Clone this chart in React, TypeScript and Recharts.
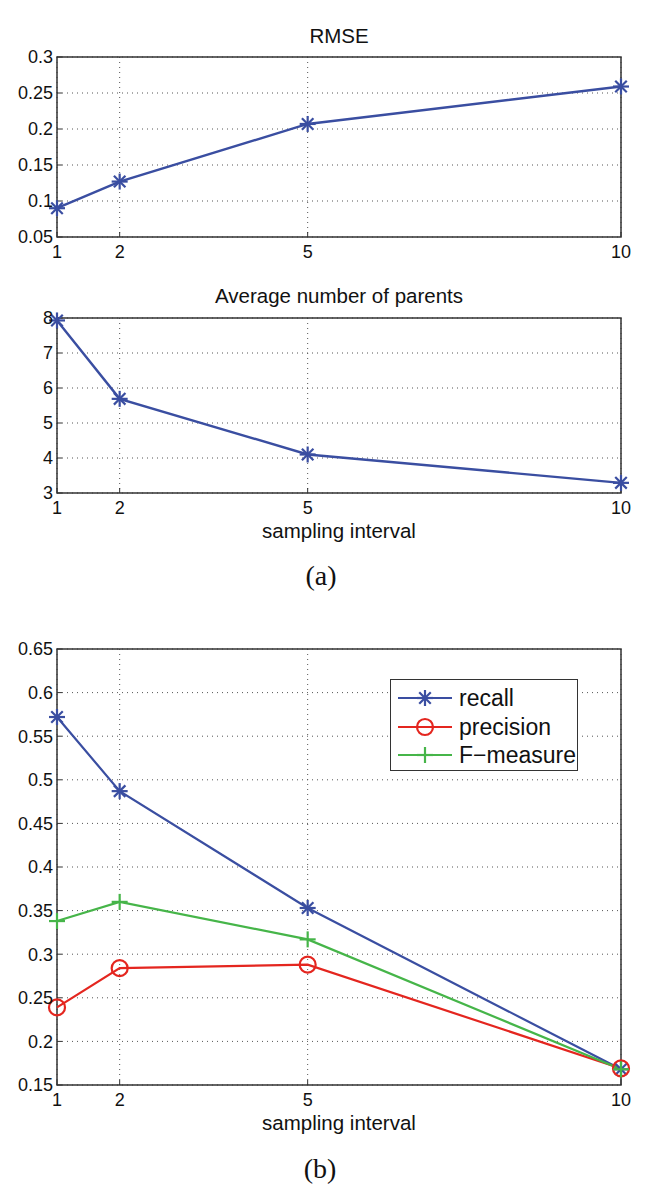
import React from 'react'
import { LineChart, Line, XAxis, YAxis, CartesianGrid, ReferenceArea, Legend } from 'recharts'

// sampling intervals shared by all three panels
const intervals = [1, 2, 5, 10]

// panel (a), top: RMSE
const rmse = [0.09, 0.127, 0.207, 0.259]
const rmseTicks = [0.05, 0.1, 0.15, 0.2, 0.25, 0.3]

// panel (a), bottom: average number of parents
const avgParents = [7.93, 5.69, 4.1, 3.29]
const parentsTicks = [3, 4, 5, 6, 7, 8]

// panel (b)
const recall = [0.572, 0.487, 0.353, 0.168]
const precision = [0.239, 0.284, 0.288, 0.169]
const fMeasure = [0.338, 0.36, 0.317, 0.168]
const prfTicks = [0.15, 0.2, 0.25, 0.3, 0.35, 0.4, 0.45, 0.5, 0.55, 0.6, 0.65]
const legendOrder = ['recall', 'precision', 'fmeasure']

const BLUE = '#3a4ea1'
const RED = '#e4261f'
const GREEN = '#46b549'
const AXIS = '#333'
const FONT = '"Liberation Sans", Arial, sans-serif'

const rmseData = intervals.map((x, i) => ({ interval: x, rmse: rmse[i] }))
const parentsData = intervals.map((x, i) => ({ interval: x, parents: avgParents[i] }))
const prfData = intervals.map((x, i) => ({
  interval: x,
  recall: recall[i],
  precision: precision[i],
  fmeasure: fMeasure[i],
}))

const tickStyle = { fontSize: 18, fill: '#111', fontFamily: FONT }

// MATLAB-like markers
function AsteriskMark({ cx, cy, color, r = 8 }: any) {
  if (cx == null || cy == null) return null
  const d = r * 0.72
  return (
    <g stroke={color} strokeWidth={2.2} fill="none">
      <line x1={cx - r} y1={cy} x2={cx + r} y2={cy} />
      <line x1={cx} y1={cy - r} x2={cx} y2={cy + r} />
      <line x1={cx - d} y1={cy - d} x2={cx + d} y2={cy + d} />
      <line x1={cx - d} y1={cy + d} x2={cx + d} y2={cy - d} />
    </g>
  )
}

function CircleMark({ cx, cy, color, r = 8 }: any) {
  if (cx == null || cy == null) return null
  return <circle cx={cx} cy={cy} r={r} stroke={color} strokeWidth={2.2} fill="none" />
}

function PlusMark({ cx, cy, color, r = 8 }: any) {
  if (cx == null || cy == null) return null
  return (
    <g stroke={color} strokeWidth={2.2} fill="none">
      <line x1={cx - r} y1={cy} x2={cx + r} y2={cy} />
      <line x1={cx} y1={cy - r} x2={cx} y2={cy + r} />
    </g>
  )
}

const markers: Record<string, any> = {
  recall: AsteriskMark,
  precision: CircleMark,
  fmeasure: PlusMark,
}

function dotOf(Mark: any, color: string) {
  return (p: any) => <Mark key={`${p.dataKey}-${p.index}`} cx={p.cx} cy={p.cy} color={color} />
}

// axes, grid and box, shared by every panel
function frame(domain: number[], ticks: number[]) {
  return [
    <CartesianGrid key="grid" stroke="#555" strokeDasharray="1 4" strokeWidth={1} />,
    <XAxis
      key="x"
      dataKey="interval"
      type="number"
      domain={[1, 10]}
      ticks={intervals}
      interval={0}
      height={30}
      tickSize={-5}
      tickMargin={13}
      axisLine={false}
      stroke={AXIS}
      tick={tickStyle}
    />,
    <XAxis
      key="xt"
      xAxisId="top"
      orientation="top"
      dataKey="interval"
      type="number"
      domain={[1, 10]}
      ticks={intervals}
      interval={0}
      height={1}
      tickSize={-5}
      axisLine={false}
      stroke={AXIS}
      tick={false}
    />,
    <YAxis
      key="y"
      type="number"
      domain={domain}
      ticks={ticks}
      interval={0}
      width={57}
      tickSize={-5}
      tickMargin={9}
      axisLine={false}
      stroke={AXIS}
      tick={tickStyle}
    />,
    <YAxis
      key="yr"
      yAxisId="right"
      orientation="right"
      type="number"
      domain={domain}
      ticks={ticks}
      interval={0}
      width={1}
      tickSize={-5}
      axisLine={false}
      stroke={AXIS}
      tick={false}
    />,
    <ReferenceArea
      key="box"
      x1={1}
      x2={10}
      y1={domain[0]}
      y2={domain[1]}
      fill="none"
      fillOpacity={0}
      stroke={AXIS}
      strokeWidth={1.5}
    />,
  ]
}

function PrfLegend({ payload }: any) {
  const items = [...(payload || [])].sort(
    (a: any, b: any) => legendOrder.indexOf(a.dataKey) - legendOrder.indexOf(b.dataKey)
  )
  return (
    <div
      style={{
        width: 188,
        height: 92,
        boxSizing: 'border-box',
        border: `1.5px solid ${AXIS}`,
        background: '#fff',
        paddingTop: 4,
        fontFamily: FONT,
        fontSize: 23,
        color: '#111',
      }}
    >
      {items.map((entry: any) => {
        const Mark = markers[entry.dataKey]
        return (
          <div key={entry.dataKey} style={{ height: 28.5, display: 'flex', alignItems: 'center' }}>
            <svg width={68} height={28} style={{ flex: 'none' }}>
              <line x1={7} y1={14} x2={61} y2={14} stroke={entry.color} strokeWidth={2.2} />
              <Mark cx={34} cy={14} color={entry.color} />
            </svg>
            <span style={{ lineHeight: '28px' }}>{entry.value}</span>
          </div>
        )
      })}
    </div>
  )
}

function Label({ x, y, children, size = 20.5, serif = false }: any) {
  return (
    <div
      style={{
        position: 'absolute',
        left: x,
        top: y,
        transform: 'translate(-50%, -50%)',
        whiteSpace: 'nowrap',
        fontFamily: serif ? '"Liberation Serif", "DejaVu Serif", serif' : FONT,
        fontSize: size,
        color: '#111',
        lineHeight: 1,
      }}
    >
      {children}
    </div>
  )
}

export default function App() {
  return (
    <div style={{ position: 'absolute', left: 0, top: 0, width: 646, height: 1200, background: '#fff', overflow: 'hidden' }}>
      <Label x={339} y={36}>RMSE</Label>
      <div style={{ position: 'absolute', left: 0, top: 0 }}>
        <LineChart width={646} height={280} data={rmseData} margin={{ top: 56, right: 24, bottom: 13, left: 0 }}>
          {frame([0.05, 0.3], rmseTicks)}
          <Line
            dataKey="rmse"
            stroke={BLUE}
            strokeWidth={2.4}
            dot={dotOf(AsteriskMark, BLUE)}
            activeDot={false}
            isAnimationActive={false}
          />
        </LineChart>
      </div>

      <Label x={339} y={296}>Average number of parents</Label>
      <div style={{ position: 'absolute', left: 0, top: 280 }}>
        <LineChart width={646} height={250} data={parentsData} margin={{ top: 37, right: 24, bottom: 7, left: 0 }}>
          {frame([3, 8], parentsTicks)}
          <Line
            dataKey="parents"
            stroke={BLUE}
            strokeWidth={2.4}
            dot={dotOf(AsteriskMark, BLUE)}
            activeDot={false}
            isAnimationActive={false}
          />
        </LineChart>
      </div>
      <Label x={339} y={531}>sampling interval</Label>
      <Label x={321} y={576} size={28} serif>(a)</Label>

      <div style={{ position: 'absolute', left: 0, top: 600 }}>
        <LineChart width={646} height={520} data={prfData} margin={{ top: 48, right: 24, bottom: 5, left: 0 }}>
          {frame([0.15, 0.65], prfTicks)}
          <Line
            dataKey="recall"
            name="recall"
            stroke={BLUE}
            strokeWidth={2.2}
            dot={dotOf(AsteriskMark, BLUE)}
            activeDot={false}
            isAnimationActive={false}
          />
          <Line
            dataKey="precision"
            name="precision"
            stroke={RED}
            strokeWidth={2.2}
            dot={dotOf(CircleMark, RED)}
            activeDot={false}
            isAnimationActive={false}
          />
          <Line
            dataKey="fmeasure"
            name="F−measure"
            stroke={GREEN}
            strokeWidth={2.2}
            dot={dotOf(PlusMark, GREEN)}
            activeDot={false}
            isAnimationActive={false}
          />
          <Legend
            layout="vertical"
            align="center"
            verticalAlign="middle"
            content={<PrfLegend />}
            wrapperStyle={{ left: 390, top: 79, width: 188, height: 92 }}
          />
        </LineChart>
      </div>
      <Label x={339} y={1123}>sampling interval</Label>
      <Label x={320} y={1169} size={28} serif>(b)</Label>
    </div>
  )
}
